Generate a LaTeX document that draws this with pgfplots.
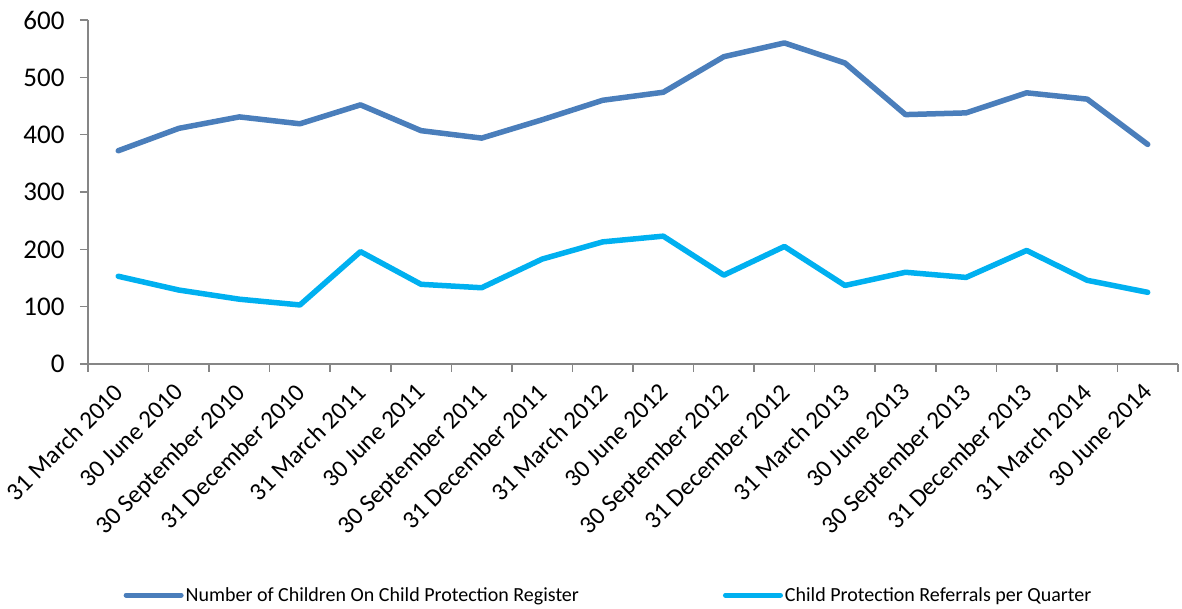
\documentclass[border=0pt]{standalone}
\usepackage{pgfplots}
\pgfplotsset{compat=1.18}
\usepackage{fontspec}
\setmainfont{Carlito}
\definecolor{regblue}{HTML}{4A7EBB}
\definecolor{refblue}{HTML}{00B0F0}
\definecolor{axgray}{HTML}{868686}
\begin{document}
\begin{tikzpicture}[x=1pt,y=1pt]
\begin{axis}[
  scale only axis,
  width=1090pt, height=344pt,
  xmin=-0.5, xmax=17.5,
  ymin=0, ymax=600,
  axis x line*=bottom, axis y line*=left,
  axis line style={draw=axgray, line width=1.6pt},
  xtick={0,...,17},
  xticklabels={31 March 2010,30 June 2010,30 September 2010,31 December 2010,31 March 2011,30 June 2011,30 September 2011,31 December 2011,31 March 2012,30 June 2012,30 September 2012,31 December 2012,31 March 2013,30 June 2013,30 September 2013,31 December 2013,31 March 2014,30 June 2014},
  xtick style={draw=none},
  minor xtick={-0.5,0.5,...,17.5},
  minor x tick style={draw=axgray, line width=1.6pt},
  minor tick length=8pt,
  ytick={0,100,...,600},
  ytick style={draw=axgray, line width=1.6pt},
  major tick length=8pt,
  tick align=outside,
  /pgf/number format/assume math mode=true,
  y tick label style={font=\fontsize{27}{30}\selectfont, xshift=-12pt},
  x tick label style={font=\fontsize{25}{28}\selectfont, rotate=45, anchor=north east, inner sep=2pt, xshift=-9pt, yshift=-1pt},
  legend style={at={(0.4775,-0.672)}, anchor=center, draw=none, legend columns=2,
    font=\fontsize{20}{24}\selectfont,
    /tikz/every even column/.append style={column sep=142pt}},
  legend image code/.code={\draw[#1, line width=5pt] (0pt,0pt) -- (55pt,0pt);},
  clip=false,
]
\addplot[regblue, line width=5.5pt, line join=round, line cap=round] coordinates {
(0,372) (1,411) (2,431) (3,419) (4,452) (5,407) (6,394) (7,426) (8,460) (9,474)
(10,536) (11,560) (12,525) (13,435) (14,438) (15,473) (16,462) (17,383)};
\addlegendentry{Number of Children On Child Protection Register}
\addplot[refblue, line width=5.5pt, line join=round, line cap=round] coordinates {
(0,153) (1,129) (2,113) (3,103) (4,196) (5,139) (6,133) (7,183) (8,213) (9,223)
(10,155) (11,205) (12,137) (13,160) (14,151) (15,198) (16,146) (17,125)};
\addlegendentry{Child Protection Referrals per Quarter}
\end{axis}
\pgfresetboundingbox
\path (current axis.south west) ++(-88pt,-245pt) rectangle ++(1182pt,609pt);
\end{tikzpicture}
\end{document}
